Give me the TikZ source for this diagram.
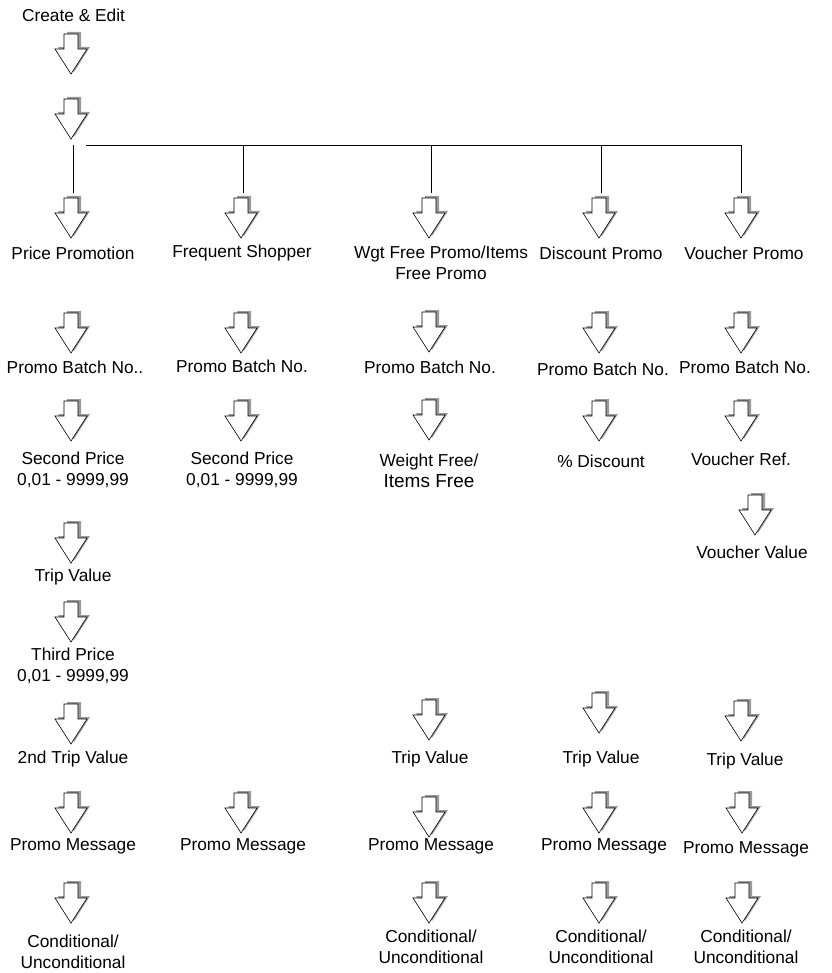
\documentclass[tikz,border=0pt]{standalone}
\usepackage{fontspec}
\setmainfont{Liberation Sans}
\definecolor{Shade}{HTML}{9A9A9A}
\newcommand{\lblfont}{\fontsize{17.3}{21}\selectfont}
\begin{document}
\begin{tikzpicture}[x=1pt,y=-1pt,
  lbl/.style={font=\lblfont,align=center,inner sep=0pt},
  link/.style={line width=0.8pt,draw=black},
  pics/dnarrow/.style={code={
    \fill[Shade,shift={(3,-2)}] (-7,0) -- (7,0) -- (7,15) -- (16,15) -- (0,40) -- (-16,15) -- (-7,15) -- cycle;
    \draw[fill=white,line width=0.6pt,line join=miter] (-7,0) -- (7,0) -- (7,15) -- (16,15) -- (0,40) -- (-16,15) -- (-7,15) -- cycle;
    \coordinate (-top) at (0,-5);
  }}
]
\useasboundingbox (0,0) rectangle (831,973);
\node[lbl] (create) at (73.5,15) {Create \& Edit};
\pic (a1) at (71,34) {dnarrow};
\pic (a2) at (71,99) {dnarrow};
\coordinate (j1) at (73,145);
\coordinate (barL) at (86,145);
\coordinate (j2) at (243,145);
\coordinate (j3) at (431,145);
\coordinate (j4) at (601,145);
\coordinate (j5) at (741,145);
\pic (r1a) at (71,198) {dnarrow};
\pic (r1b) at (241,198) {dnarrow};
\pic (r1c) at (429,198) {dnarrow};
\pic (r1d) at (599,198) {dnarrow};
\pic (r1e) at (741,198) {dnarrow};
\draw[link] (barL) -- (j5);
\draw[link] (j1) -- (j1 |- r1a-top);
\draw[link] (j2) -- (j2 |- r1b-top);
\draw[link] (j3) -- (j3 |- r1c-top);
\draw[link] (j4) -- (j4 |- r1d-top);
\draw[link] (j5) -- (j5 |- r1e-top);
\node[lbl] (pp) at (73,253) {Price Promotion};
\node[lbl] (fs) at (242,253) {Frequent Shopper};
\node[lbl] (wf) at (441,263) {Wgt Free Promo/Items\\Free Promo};
\node[lbl] (dp) at (601,253) {Discount Promo};
\node[lbl] (vp) at (744,253) {Voucher Promo};
\pic (r2a) at (71,313) {dnarrow};
\pic (r2b) at (241,313) {dnarrow};
\pic (r2c) at (429,312) {dnarrow};
\pic (r2d) at (599,313) {dnarrow};
\pic (r2e) at (741,313) {dnarrow};
\node[lbl] (pb1) at (75,367) {Promo Batch No..};
\node[lbl] (pb2) at (242,366) {Promo Batch No.};
\node[lbl] (pb3) at (430,367) {Promo Batch No.};
\node[lbl] (pb4) at (603,369) {Promo Batch No.};
\node[lbl] (pb5) at (745,367) {Promo Batch No.};
\pic (r3a) at (71,401) {dnarrow};
\pic (r3b) at (241,401) {dnarrow};
\pic (r3c) at (429,400) {dnarrow};
\pic (r3d) at (599,401) {dnarrow};
\pic (r3e) at (741,401) {dnarrow};
\node[lbl] (sp1) at (73,469.5) {Second Price\\0,01 - 9999,99};
\node[lbl] (sp2) at (242,469.5) {Second Price\\0,01 - 9999,99};
\node[lbl] (wi) at (429,471) {Weight Free/\\{\fontsize{19}{21}\selectfont Items Free}};
\node[lbl] (dc) at (601,461) {\% Discount};
\node[lbl] (vr) at (741,459) {Voucher Ref.};
\pic (r4e) at (755,495) {dnarrow};
\node[lbl] (vv) at (752,552) {Voucher Value};
\pic (r4a) at (71,523) {dnarrow};
\node[lbl] (tv1) at (73,577) {Trip Value};
\pic (r5a) at (71,602) {dnarrow};
\node[lbl] (tp1) at (73,665.5) {Third Price\\0,01 - 9999,99};
\pic (r6a) at (71,704) {dnarrow};
\pic (r6c) at (429,700) {dnarrow};
\pic (r6d) at (599,693) {dnarrow};
\pic (r6e) at (741,701) {dnarrow};
\node[lbl] (tv2) at (73,759) {2nd Trip Value};
\node[lbl] (tv3) at (430,759) {Trip Value};
\node[lbl] (tv4) at (601,759) {Trip Value};
\node[lbl] (tv5) at (745,761) {Trip Value};
\node[lbl] (pm1) at (73,846) {Promo Message};
\node[lbl] (pm2) at (243,846) {Promo Message};
\node[lbl] (pm3) at (431,846) {Promo Message};
\node[lbl] (pm4) at (604,846) {Promo Message};
\node[lbl] (pm5) at (746,849) {Promo Message};
\pic (r7a) at (71,793) {dnarrow};
\pic (r7b) at (241,793) {dnarrow};
\pic (r7c) at (429,797) {dnarrow};
\pic (r7d) at (599,793) {dnarrow};
\pic (r7e) at (742,793) {dnarrow};
\pic (r8a) at (71,883) {dnarrow};
\pic (r8c) at (429,883) {dnarrow};
\pic (r8d) at (599,883) {dnarrow};
\pic (r8e) at (742,883) {dnarrow};
\node[lbl] (cu1) at (73,951.5) {Conditional/\\Unconditional};
\node[lbl] (cu3) at (431,946.5) {Conditional/\\Unconditional};
\node[lbl] (cu4) at (601,946.5) {Conditional/\\Unconditional};
\node[lbl] (cu5) at (746,946.5) {Conditional/\\Unconditional};
\end{tikzpicture}
\end{document}
